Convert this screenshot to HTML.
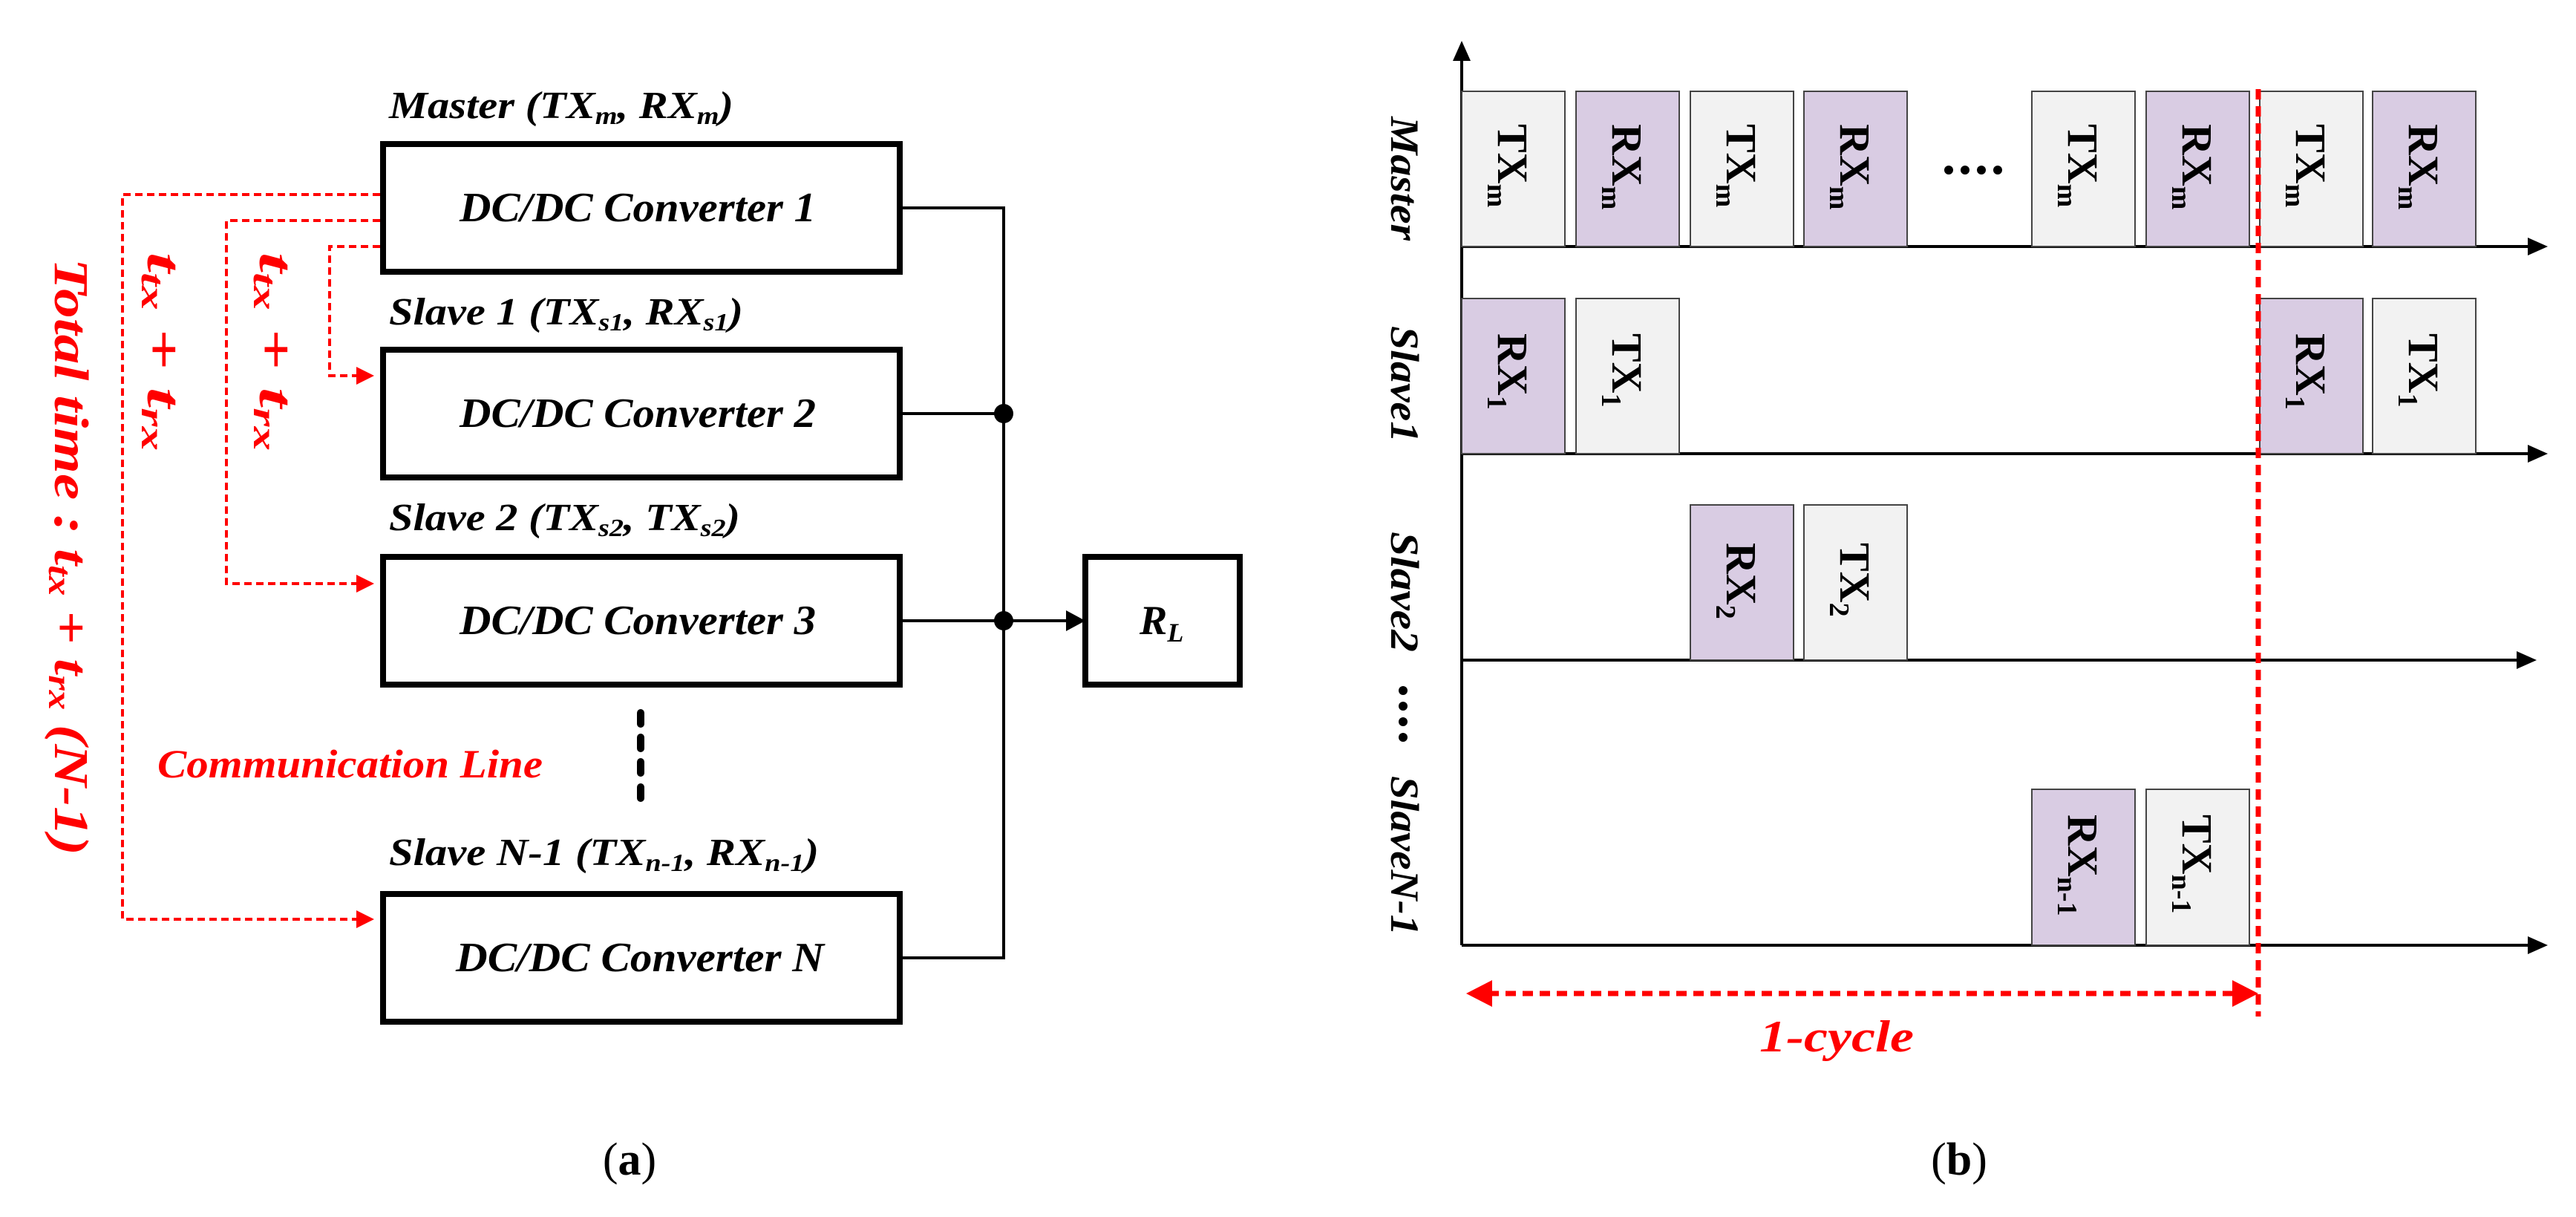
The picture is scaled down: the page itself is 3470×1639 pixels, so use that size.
<!DOCTYPE html>
<html><head><meta charset="utf-8"><style>
html,body{margin:0;padding:0;background:#fff;}
svg{display:block;}
</style></head><body>
<svg width="3470" height="1639" viewBox="0 0 3470 1639" xmlns="http://www.w3.org/2000/svg">
<defs>
<marker id="ra" markerWidth="6" markerHeight="6" refX="5" refY="3" orient="auto" markerUnits="strokeWidth"><path d="M0,0 L6,3 L0,6 z" fill="#f00"/></marker>
</defs>
<g font-family="Liberation Serif, serif" font-style="italic" font-weight="bold" fill="#000">
<!-- boxes -->
<g fill="none" stroke="#000" stroke-width="8">
<rect x="516" y="194" width="696" height="172"/>
<rect x="516" y="471" width="696" height="172"/>
<rect x="516" y="750" width="696" height="172"/>
<rect x="516" y="1204" width="696" height="172"/>
<rect x="1462" y="750" width="208" height="172"/>
</g>
<text x="524" y="159" font-size="52" textLength="464" lengthAdjust="spacingAndGlyphs">Master (TX<tspan font-size="34" dy="8">m</tspan><tspan dy="-8">, RX</tspan><tspan font-size="34" dy="8">m</tspan><tspan dy="-8">)</tspan></text>
<text x="524" y="437" font-size="52" textLength="477" lengthAdjust="spacingAndGlyphs">Slave 1 (TX<tspan font-size="34" dy="8">s1</tspan><tspan dy="-8">, RX</tspan><tspan font-size="34" dy="8">s1</tspan><tspan dy="-8">)</tspan></text>
<text x="524" y="714" font-size="52" textLength="473" lengthAdjust="spacingAndGlyphs">Slave 2 (TX<tspan font-size="34" dy="8">s2</tspan><tspan dy="-8">, TX</tspan><tspan font-size="34" dy="8">s2</tspan><tspan dy="-8">)</tspan></text>
<text x="524" y="1165" font-size="52" textLength="579" lengthAdjust="spacingAndGlyphs">Slave N-1 (TX<tspan font-size="34" dy="8">n-1</tspan><tspan dy="-8">, RX</tspan><tspan font-size="34" dy="8">n-1</tspan><tspan dy="-8">)</tspan></text>
<text x="619" y="298" font-size="56" textLength="480" lengthAdjust="spacingAndGlyphs">DC/DC Converter 1</text>
<text x="619" y="575" font-size="56" textLength="480" lengthAdjust="spacingAndGlyphs">DC/DC Converter 2</text>
<text x="619" y="854" font-size="56" textLength="480" lengthAdjust="spacingAndGlyphs">DC/DC Converter 3</text>
<text x="614" y="1308" font-size="56" textLength="496" lengthAdjust="spacingAndGlyphs">DC/DC Converter N</text>
<text x="1535" y="854" font-size="56">R<tspan font-size="36" dy="10">L</tspan></text>
<!-- bus -->
<g stroke="#000" stroke-width="4" fill="none">
<polyline points="1212,280 1352,280 1352,1290 1212,1290"/>
<line x1="1212" y1="557" x2="1352" y2="557"/>
<line x1="1212" y1="836" x2="1440" y2="836"/>
</g>
<path d="M1436,822 L1462,836 L1436,850 z" fill="#000"/>
<circle cx="1352" cy="557" r="13"/>
<circle cx="1352" cy="836" r="13"/>
<g stroke="#000" stroke-width="10" stroke-linecap="round">
<line x1="863" y1="960" x2="863" y2="975"/>
<line x1="863" y1="993" x2="863" y2="1008"/>
<line x1="863" y1="1026" x2="863" y2="1041"/>
<line x1="863" y1="1060" x2="863" y2="1075"/>
</g>
<!-- red dashed comm lines -->
<g stroke="#f00" stroke-width="4" fill="none" stroke-dasharray="10 6">
<polyline points="512,262 165,262 165,1238 500,1238" marker-end="url(#ra)"/>
<polyline points="512,297 305,297 305,786 500,786" marker-end="url(#ra)"/>
<polyline points="512,332 444,332 444,506 500,506" marker-end="url(#ra)"/>
</g>
<g fill="#f00">
<text transform="translate(74,348) rotate(90)" font-size="66" textLength="804" lengthAdjust="spacingAndGlyphs">Total time : t<tspan font-size="44" dy="8">tx</tspan><tspan dy="-8"> + t</tspan><tspan font-size="44" dy="8">rx</tspan><tspan dy="-8"> (N-1)</tspan></text>
<text transform="translate(199,340) rotate(90)" font-size="66" textLength="267" lengthAdjust="spacingAndGlyphs">t<tspan font-size="44" dy="8">tx</tspan><tspan dy="-8"> + t</tspan><tspan font-size="44" dy="8">rx</tspan></text>
<text transform="translate(350,340) rotate(90)" font-size="66" textLength="267" lengthAdjust="spacingAndGlyphs">t<tspan font-size="44" dy="8">tx</tspan><tspan dy="-8"> + t</tspan><tspan font-size="44" dy="8">rx</tspan></text>
<text x="212" y="1047" font-size="54" textLength="519" lengthAdjust="spacingAndGlyphs">Communication Line</text>
</g>
</g>
<text x="848" y="1582" font-family="Liberation Serif, serif" font-size="62" text-anchor="middle">(<tspan font-weight="bold">a</tspan>)</text>

<!-- right panel -->
<g stroke="#000" stroke-width="4" fill="none">
<line x1="1969" y1="70" x2="1969" y2="1273"/>
<line x1="1969" y1="332" x2="3410" y2="332"/>
<line x1="1969" y1="611" x2="3410" y2="611"/>
<line x1="1969" y1="889" x2="3395" y2="889"/>
<line x1="1969" y1="1273" x2="3410" y2="1273"/>
</g>
<g fill="#000">
<path d="M1957,82 L1969,55 L1981,82 z"/>
<path d="M3405,320 L3432,332 L3405,344 z"/>
<path d="M3405,599 L3432,611 L3405,623 z"/>
<path d="M3390,877 L3417,889 L3390,901 z"/>
<path d="M3405,1261 L3432,1273 L3405,1285 z"/>
</g>
<g stroke="#444" stroke-width="2">
<!-- master -->
<rect x="1969" y="123" width="139" height="209" fill="#f2f2f2"/>
<rect x="2123" y="123" width="139" height="209" fill="#d9cce3"/>
<rect x="2277" y="123" width="139" height="209" fill="#f2f2f2"/>
<rect x="2430" y="123" width="139" height="209" fill="#d9cce3"/>
<rect x="2737" y="123" width="139" height="209" fill="#f2f2f2"/>
<rect x="2891" y="123" width="139" height="209" fill="#d9cce3"/>
<rect x="3044" y="123" width="139" height="209" fill="#f2f2f2"/>
<rect x="3196" y="123" width="139" height="209" fill="#d9cce3"/>
<!-- slave1 -->
<rect x="1969" y="402" width="139" height="209" fill="#d9cce3"/>
<rect x="2123" y="402" width="139" height="209" fill="#f2f2f2"/>
<rect x="3044" y="402" width="139" height="209" fill="#d9cce3"/>
<rect x="3196" y="402" width="139" height="209" fill="#f2f2f2"/>
<!-- slave2 -->
<rect x="2277" y="680" width="139" height="209" fill="#d9cce3"/>
<rect x="2430" y="680" width="139" height="209" fill="#f2f2f2"/>
<!-- slaveN-1 -->
<rect x="2737" y="1063" width="139" height="210" fill="#d9cce3"/>
<rect x="2891" y="1063" width="139" height="210" fill="#f2f2f2"/>
</g>
<g font-family="Liberation Serif, serif" font-weight="bold" font-size="58" fill="#000">
<text transform="translate(2018,167) rotate(90)">TX<tspan font-size="38" dy="14">m</tspan></text>
<text transform="translate(2172,167) rotate(90)">RX<tspan font-size="38" dy="14">m</tspan></text>
<text transform="translate(2326,167) rotate(90)">TX<tspan font-size="38" dy="14">m</tspan></text>
<text transform="translate(2479,167) rotate(90)">RX<tspan font-size="38" dy="14">m</tspan></text>
<text transform="translate(2786,167) rotate(90)">TX<tspan font-size="38" dy="14">m</tspan></text>
<text transform="translate(2940,167) rotate(90)">RX<tspan font-size="38" dy="14">m</tspan></text>
<text transform="translate(3093,167) rotate(90)">TX<tspan font-size="38" dy="14">m</tspan></text>
<text transform="translate(3245,167) rotate(90)">RX<tspan font-size="38" dy="14">m</tspan></text>
<text transform="translate(2018,449) rotate(90)">RX<tspan font-size="38" dy="14">1</tspan></text>
<text transform="translate(2172,449) rotate(90)">TX<tspan font-size="38" dy="14">1</tspan></text>
<text transform="translate(3093,449) rotate(90)">RX<tspan font-size="38" dy="14">1</tspan></text>
<text transform="translate(3245,449) rotate(90)">TX<tspan font-size="38" dy="14">1</tspan></text>
<text transform="translate(2326,731) rotate(90)">RX<tspan font-size="38" dy="14">2</tspan></text>
<text transform="translate(2479,731) rotate(90)">TX<tspan font-size="38" dy="14">2</tspan></text>
<text transform="translate(2786,1097) rotate(90)">RX<tspan font-size="38" dy="14">n-1</tspan></text>
<text transform="translate(2940,1097) rotate(90)">TX<tspan font-size="38" dy="14">n-1</tspan></text>
</g>
<g fill="#000">
<circle cx="2625" cy="229" r="6"/><circle cx="2647" cy="229" r="6"/><circle cx="2669" cy="229" r="6"/><circle cx="2691" cy="229" r="6"/>
<circle cx="1890" cy="930" r="6"/><circle cx="1890" cy="951" r="6"/><circle cx="1890" cy="972" r="6"/><circle cx="1890" cy="993" r="6"/>
</g>
<g font-family="Liberation Serif, serif" font-style="italic" font-weight="bold" font-size="54" fill="#000">
<text transform="translate(1874,157) rotate(90)" textLength="167" lengthAdjust="spacingAndGlyphs">Master</text>
<text transform="translate(1874,439) rotate(90)" textLength="157" lengthAdjust="spacingAndGlyphs">Slave1</text>
<text transform="translate(1874,716) rotate(90)" textLength="162" lengthAdjust="spacingAndGlyphs">Slave2</text>
<text transform="translate(1874,1045) rotate(90)" textLength="215" lengthAdjust="spacingAndGlyphs">SlaveN-1</text>
</g>
<!-- red cycle -->
<line x1="3042" y1="120" x2="3042" y2="1369" stroke="#f00" stroke-width="7" stroke-dasharray="14 9"/>
<line x1="2005" y1="1338" x2="3010" y2="1338" stroke="#f00" stroke-width="7" stroke-dasharray="14 9"/>
<path d="M1975,1338 L2010,1320 L2010,1356 z" fill="#f00"/>
<path d="M3042,1338 L3007,1320 L3007,1356 z" fill="#f00"/>
<text x="2370" y="1416" font-family="Liberation Serif, serif" font-style="italic" font-weight="bold" font-size="60" fill="#f00" textLength="208" lengthAdjust="spacingAndGlyphs">1-cycle</text>
<text x="2639" y="1582" font-family="Liberation Serif, serif" font-size="62" text-anchor="middle">(<tspan font-weight="bold">b</tspan>)</text>
</svg>
</body></html>
